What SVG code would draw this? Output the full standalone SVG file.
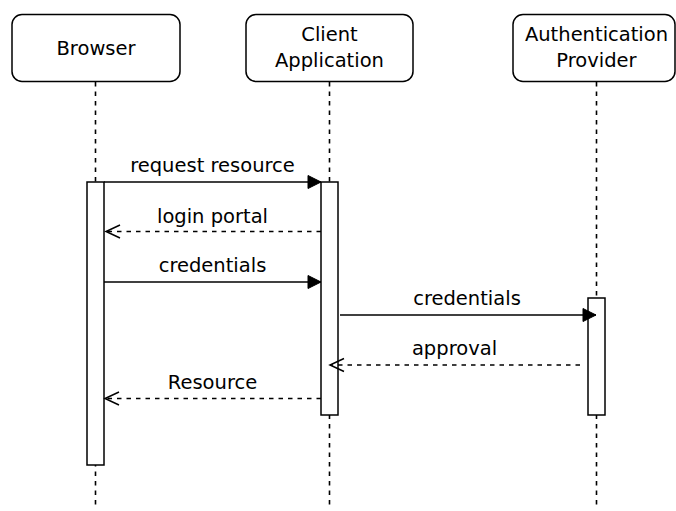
<svg xmlns="http://www.w3.org/2000/svg" width="676" height="511" viewBox="0 0 676 511">
  <style>
    text { font-family: "DejaVu Sans", Verdana, sans-serif; font-size: 19.5px; fill: #000; text-anchor: middle; }
    .head { fill: #fff; stroke: #000; stroke-width: 1.5; }
    .life { fill: none; stroke: #000; stroke-width: 1.6; stroke-dasharray: 4.5 5; }
    .act { fill: #fff; stroke: #000; stroke-width: 1.5; }
    .msg { fill: none; stroke: #000; stroke-width: 1.5; }
    .ret { fill: none; stroke: #000; stroke-width: 1.5; stroke-dasharray: 4.5 5; }
  </style>
  <defs>
    <marker id="solidHead" markerUnits="userSpaceOnUse" markerWidth="16" markerHeight="16" viewBox="0 0 16 16" refX="14" refY="8" orient="auto">
      <path d="M1,1.5 L14,8 L1,14.5 Z" fill="#000" stroke="#000" stroke-width="1"/>
    </marker>
    <marker id="openHead" markerUnits="userSpaceOnUse" markerWidth="18" markerHeight="18" viewBox="0 0 18 18" refX="16" refY="9" orient="auto">
      <path d="M2,2.5 L16,9 L2,15.5" fill="none" stroke="#000" stroke-width="1.5"/>
    </marker>
  </defs>

  <rect width="676" height="511" fill="#fff"/>

  <!-- lifelines -->
  <g id="lifelines">
    <line class="life" x1="95.5" y1="82" x2="95.5" y2="507"/>
    <line class="life" x1="329.5" y1="82" x2="329.5" y2="507"/>
    <line class="life" x1="596.5" y1="82" x2="596.5" y2="507"/>
  </g>

  <!-- participant heads -->
  <g id="browser">
    <rect class="head" x="12" y="14.5" width="168" height="67" rx="10"/>
    <text x="96" y="54.5">Browser</text>
  </g>
  <g id="client-application">
    <rect class="head" x="246" y="14.5" width="167" height="67" rx="10"/>
    <text x="329.5" y="41">Client</text>
    <text x="329.5" y="66.5">Application</text>
  </g>
  <g id="authentication-provider">
    <rect class="head" x="513" y="14.5" width="162" height="67" rx="10"/>
    <text x="596.5" y="41">Authentication</text>
    <text x="596.5" y="66.5">Provider</text>
  </g>

  <!-- activation bars -->
  <g id="activations">
    <rect class="act" x="87" y="182" width="17" height="283"/>
    <rect class="act" x="321" y="182" width="17" height="233"/>
    <rect class="act" x="588" y="298" width="17" height="117"/>
  </g>

  <!-- messages -->
  <g id="connectors">
    <line class="msg" x1="104" y1="182" x2="321" y2="182" marker-end="url(#solidHead)"/>
    <line class="ret" x1="321" y1="231.5" x2="106" y2="231.5" marker-end="url(#openHead)"/>
    <line class="msg" x1="104" y1="282" x2="321" y2="282" marker-end="url(#solidHead)"/>
    <line class="msg" x1="340" y1="315" x2="596" y2="315" marker-end="url(#solidHead)"/>
    <line class="ret" x1="580" y1="365" x2="330" y2="365" marker-end="url(#openHead)"/>
    <line class="ret" x1="321" y1="398.5" x2="105" y2="398.5" marker-end="url(#openHead)"/>
  </g>

  <!-- message labels -->
  <g id="labels">
    <text x="212.5" y="172">request resource</text>
    <text x="212.5" y="222.5">login portal</text>
    <text x="212.5" y="272">credentials</text>
    <text x="467" y="305">credentials</text>
    <text x="454.5" y="355">approval</text>
    <text x="212.5" y="389">Resource</text>
  </g>
</svg>
